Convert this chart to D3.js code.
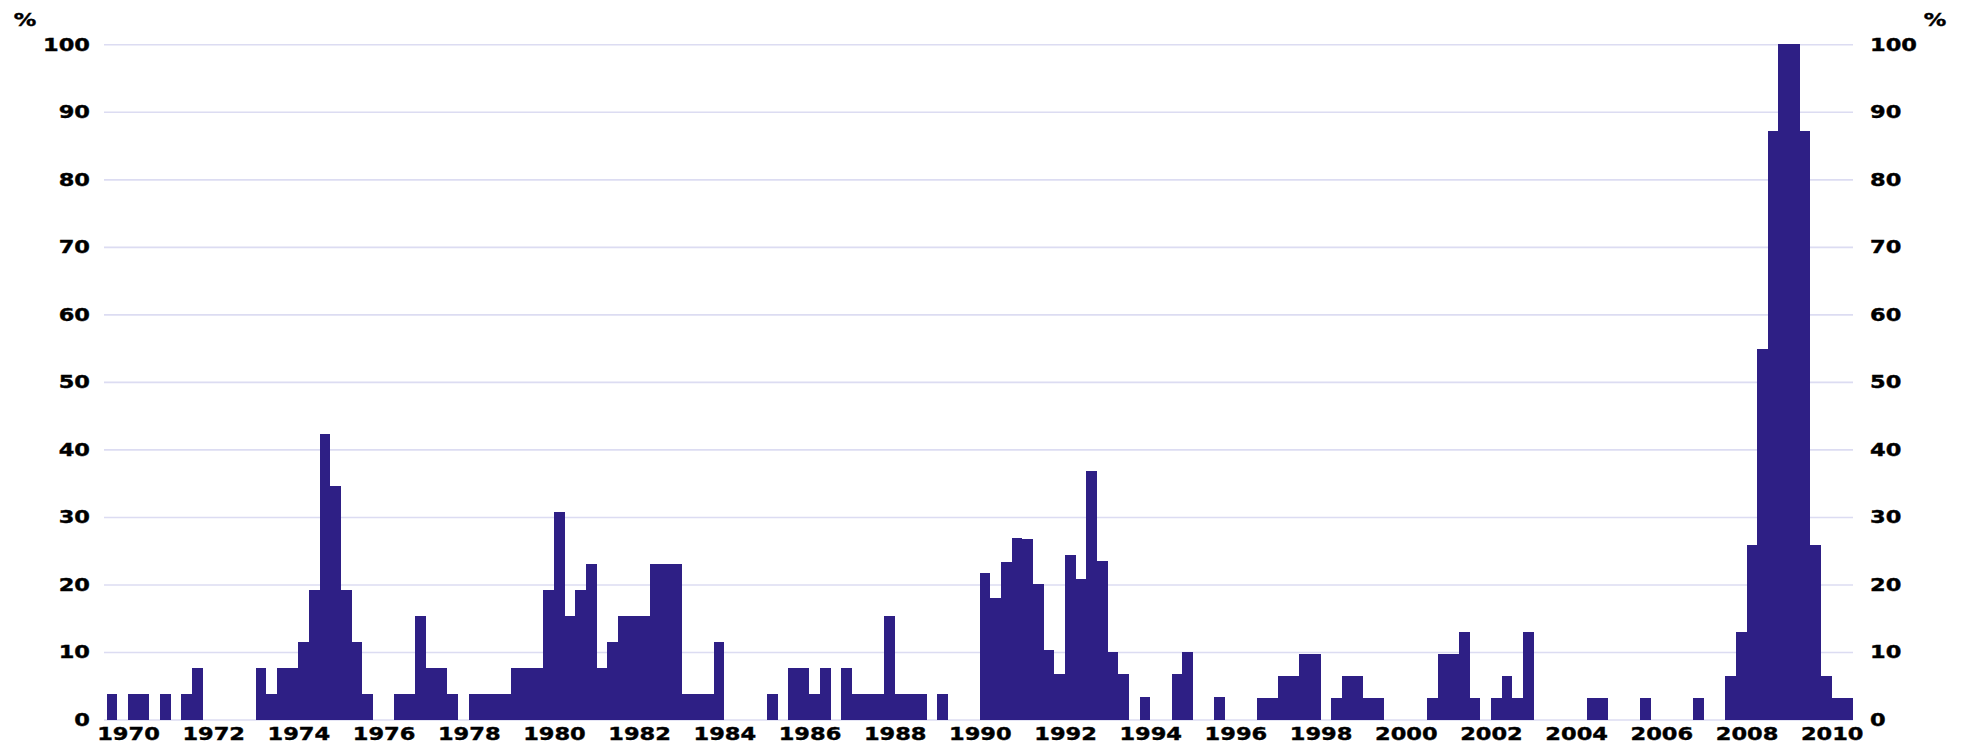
<!DOCTYPE html>
<html>
<head>
<meta charset="utf-8">
<script src="https://cdn.jsdelivr.net/npm/d3@7/dist/d3.min.js"></script>
<style>
body { margin:0; background:#fff; }
.lbl text, .unit { font-family:"DejaVu Sans", sans-serif; font-weight:bold; font-size:18px; fill:#000; stroke:#000; stroke-width:0.4; }
.grid line { stroke:#dcdcf2; stroke-width:1.6; }
</style>
</head>
<body>
<div id="chart"></div>
<script>
// Quarterly values (%), starting 1970 Q1
const q1970s = [3.8,0,3.8,3.8, 0,3.8,0,3.8, 7.7,0,0,0, 0,0,7.7,3.8, 7.7,7.7,11.5,19.2,
                42.3,34.6,19.2,11.5, 3.8,0,0,3.8, 3.8,15.4,7.7,7.7, 3.8,0,3.8,3.8, 3.8,3.8,7.7,7.7];
const q1980s = [7.7,19.2,30.8,15.4, 19.2,23.1,7.7,11.5, 15.4,15.4,15.4,23.1, 23.1,23.1,3.8,3.8,
                3.8,11.5,0,0, 0,0,3.8,0, 7.7,7.7,3.8,7.7, 0,7.7,3.8,3.8, 3.8,15.4,3.8,3.8, 3.8,0,3.8,0];
const q1990s = [0,0,21.7,18.0, 23.3,26.9,26.7,20.0, 10.3,6.8,24.3,20.8, 36.8,23.5,10.0,6.7,
                0,3.3,0,0, 6.7,10.0,0,0, 3.3,0,0,0, 3.2,3.2,6.5,6.5, 9.7,9.7,0,3.2, 6.5,6.5,3.2,3.2];
const q2000s = [0,0,0,0, 3.2,9.7,9.7,12.9, 3.2,0,3.2,6.5, 3.2,12.9,0,0, 0,0,0,3.2,
                3.2,0,0,0, 3.2,0,0,0, 0,3.2,0,0, 6.5,12.9,25.8,54.8, 87.1,100,100,87.1, 25.8,6.5,3.2,3.2];
const yearLabels = d3.range(1970, 2011, 2);
const yTicks = d3.range(0, 101, 10);

const values = [...q1970s, ...q1980s, ...q1990s, ...q2000s];
const data = values.map((v, i) => ({t: 1970 + i / 4, v: v}));

const width = 1964, height = 745;
const left = 104, right = 1853, plotX0 = 106.7;
const stretch = 1.25;

const svg = d3.select('#chart').append('svg').attr('width', width).attr('height', height);

const x = d3.scaleLinear().domain([1970, 2011]).range([plotX0, right]);
const y = d3.scaleLinear().domain([0, 100]).range([719.5, 44.3]);

// gridlines
const grid = svg.append('g').attr('class', 'grid').attr('transform', `translate(${left},0)`)
    .call(d3.axisLeft(y).tickValues(yTicks).tickSize(-(right - left)).tickFormat(''));
grid.select('.domain').remove();

// bars
svg.append('g').attr('shape-rendering', 'crispEdges')
    .selectAll('rect').data(data.filter(d => d.v > 0)).enter().append('rect')
    .attr('x', d => x(d.t))
    .attr('width', d => x(d.t + 0.25) - x(d.t))
    .attr('y', d => y(d.v))
    .attr('height', d => y(0) - y(d.v))
    .attr('fill', '#2e1f85');

// axes
const yLeft = svg.append('g').attr('class', 'lbl').attr('transform', `translate(${left},0)`)
    .call(d3.axisLeft(y).tickValues(yTicks).tickSize(0).tickPadding(14 / stretch));
const yRight = svg.append('g').attr('class', 'lbl').attr('transform', `translate(${right},0)`)
    .call(d3.axisRight(y).tickValues(yTicks).tickSize(0).tickPadding(17 / stretch));
const xAxis = svg.append('g').attr('class', 'lbl').attr('transform', `translate(0,${y(0)})`)
    .call(d3.axisBottom(x).tickValues(yearLabels.map(d => d + 0.5)).tickFormat(d => Math.floor(d))
        .tickSize(0).tickPadding(8));

[yLeft, yRight, xAxis].forEach(g => {
    g.select('.domain').remove();
    g.selectAll('text').attr('transform', `scale(${stretch},1)`).attr('font-family', null).attr('font-size', null);
});

// unit labels
svg.append('text').attr('class', 'unit').attr('text-anchor', 'middle')
    .attr('transform', `translate(25,26) scale(${stretch},1)`).text('%');
svg.append('text').attr('class', 'unit').attr('text-anchor', 'middle')
    .attr('transform', `translate(1935,26) scale(${stretch},1)`).text('%');
</script>
</body>
</html>
